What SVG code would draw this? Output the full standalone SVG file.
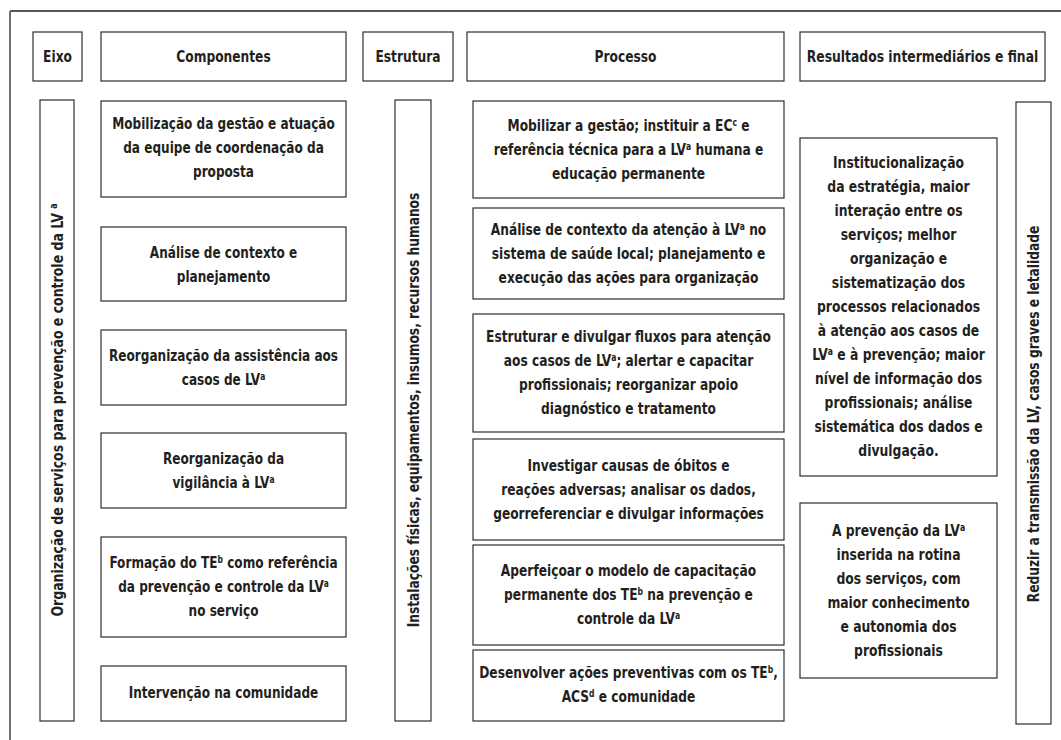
<svg xmlns="http://www.w3.org/2000/svg" width="1061" height="740" viewBox="0 0 1061 740">
<style>
  .box { fill: #ffffff; stroke: #2e2e2e; stroke-width: 1.2; }
  .t { font-family: "DejaVu Sans Condensed", "DejaVu Sans", "Liberation Sans", sans-serif; font-weight: bold; font-size: 16px; fill: #231f20; text-anchor: middle; }
  .sup { font-size: 10px; baseline-shift: super; }
</style>
<rect x="0" y="0" width="1061" height="740" fill="#ffffff"/>
<g id="frame">
  <line x1="10" y1="11" x2="1061" y2="11" stroke="#1e1e1e" stroke-width="1.3"/>
  <line x1="10" y1="11" x2="10" y2="740" stroke="#707070" stroke-width="2"/>
</g>
<g id="header-eixo"><rect class="box" x="33" y="32" width="49" height="49"/><text class="t" transform="translate(57.5 62) scale(0.85 1)">Eixo</text></g>
<g id="header-componentes"><rect class="box" x="101" y="32" width="245" height="49"/><text class="t" transform="translate(223.5 62) scale(0.85 1)">Componentes</text></g>
<g id="header-estrutura"><rect class="box" x="363" y="32" width="90" height="49"/><text class="t" transform="translate(408 62) scale(0.85 1)">Estrutura</text></g>
<g id="header-processo"><rect class="box" x="467" y="32" width="317" height="49"/><text class="t" transform="translate(625.5 62) scale(0.85 1)">Processo</text></g>
<g id="header-resultados"><rect class="box" x="800" y="32" width="245" height="49"/><text class="t" transform="translate(922.5 62) scale(0.86 1)">Resultados intermediários e final</text></g>

<g id="eixo"><rect class="box" x="40" y="100" width="34" height="621"/>
  <text class="t" transform="translate(57 410) rotate(-90) scale(0.87 1)" x="0" y="5.5">Organização de serviços para prevenção e controle da LV <tspan class="sup">a</tspan></text></g>
<g id="estrutura"><rect class="box" x="395" y="100" width="36" height="621"/>
  <text class="t" transform="translate(413 410) rotate(-90) scale(0.85 1)" x="0" y="5.5">Instalações físicas, equipamentos, insumos, recursos humanos</text></g>
<g id="resultado-final"><rect class="box" x="1016" y="102" width="35" height="622"/>
  <text class="t" transform="translate(1033.5 414) rotate(-90) scale(0.85 1)" x="0" y="5.5">Reduzir a transmissão da LV, casos graves e letalidade</text></g>

<g id="comp1"><rect class="box" x="101" y="101" width="245" height="96"/>
  <g transform="translate(223.5 0) scale(0.84 1)">
  <text class="t" x="0" y="129.5">Mobilização da gestão e atuação</text>
  <text class="t" x="0" y="153.5">da equipe de coordenação da</text>
  <text class="t" x="0" y="177.5">proposta</text></g></g>
<g id="comp2"><rect class="box" x="101" y="227" width="245" height="74"/>
  <g transform="translate(223.5 0) scale(0.84 1)">
  <text class="t" x="0" y="258.5">Análise de contexto e</text>
  <text class="t" x="0" y="282.5">planejamento</text></g></g>
<g id="comp3"><rect class="box" x="101" y="330" width="245" height="75"/>
  <g transform="translate(223.5 0) scale(0.84 1)">
  <text class="t" x="0" y="361.5">Reorganização da assistência aos</text>
  <text class="t" x="0" y="385.5">casos de LV<tspan class="sup">a</tspan></text></g></g>
<g id="comp4"><rect class="box" x="101" y="433" width="245" height="75"/>
  <g transform="translate(223.5 0) scale(0.84 1)">
  <text class="t" x="0" y="464.5">Reorganização da</text>
  <text class="t" x="0" y="488.5">vigilância à LV<tspan class="sup">a</tspan></text></g></g>
<g id="comp5"><rect class="box" x="101" y="537" width="245" height="100"/>
  <g transform="translate(223.5 0) scale(0.84 1)">
  <text class="t" x="0" y="568.5">Formação do TE<tspan class="sup">b</tspan> como referência</text>
  <text class="t" x="0" y="592.5">da prevenção e controle da LV<tspan class="sup">a</tspan></text>
  <text class="t" x="0" y="616.5">no serviço</text></g></g>
<g id="comp6"><rect class="box" x="101" y="666" width="245" height="55"/>
  <g transform="translate(223.5 0) scale(0.84 1)">
  <text class="t" x="0" y="698.5">Intervenção na comunidade</text></g></g>

<g id="proc1"><rect class="box" x="473" y="101" width="311" height="97"/>
  <g transform="translate(628.5 0) scale(0.85 1)">
  <text class="t" x="0" y="131.5">Mobilizar a gestão; instituir a EC<tspan class="sup">c</tspan> e</text>
  <text class="t" x="0" y="155.5">referência técnica para a LV<tspan class="sup">a</tspan> humana e</text>
  <text class="t" x="0" y="179.5">educação permanente</text></g></g>
<g id="proc2"><rect class="box" x="473" y="208" width="311" height="91"/>
  <g transform="translate(628.5 0) scale(0.85 1)">
  <text class="t" x="0" y="235.5">Análise de contexto da atenção à LV<tspan class="sup">a</tspan> no</text>
  <text class="t" x="0" y="259.5">sistema de saúde local; planejamento e</text>
  <text class="t" x="0" y="283.5">execução das ações para organização</text></g></g>
<g id="proc3"><rect class="box" x="473" y="314" width="311" height="118"/>
  <g transform="translate(628.5 0) scale(0.85 1)">
  <text class="t" x="0" y="342.5">Estruturar e divulgar fluxos para atenção</text>
  <text class="t" x="0" y="366.5">aos casos de LV<tspan class="sup">a</tspan>; alertar e capacitar</text>
  <text class="t" x="0" y="390.5">profissionais; reorganizar apoio</text>
  <text class="t" x="0" y="414.5">diagnóstico e tratamento</text></g></g>
<g id="proc4"><rect class="box" x="473" y="439" width="311" height="101"/>
  <g transform="translate(628.5 0) scale(0.85 1)">
  <text class="t" x="0" y="471.5">Investigar causas de óbitos e</text>
  <text class="t" x="0" y="495.5">reações adversas; analisar os dados,</text>
  <text class="t" x="0" y="519.5">georreferenciar e divulgar informações</text></g></g>
<g id="proc5"><rect class="box" x="473" y="545" width="311" height="100"/>
  <g transform="translate(628.5 0) scale(0.85 1)">
  <text class="t" x="0" y="576.5">Aperfeiçoar o modelo de capacitação</text>
  <text class="t" x="0" y="600.5">permanente dos TE<tspan class="sup">b</tspan> na prevenção e</text>
  <text class="t" x="0" y="624.5">controle da LV<tspan class="sup">a</tspan></text></g></g>
<g id="proc6"><rect class="box" x="473" y="650" width="311" height="71"/>
  <g transform="translate(628.5 0) scale(0.85 1)">
  <text class="t" x="0" y="678.5">Desenvolver ações preventivas com os TE<tspan class="sup">b</tspan>,</text>
  <text class="t" x="0" y="702.5">ACS<tspan class="sup">d</tspan> e comunidade</text></g></g>

<g id="res1"><rect class="box" x="800" y="138" width="197" height="338"/>
  <g transform="translate(898.5 0) scale(0.86 1)">
  <text class="t" x="0" y="168.5">Institucionalização</text>
  <text class="t" x="0" y="192.5">da estratégia, maior</text>
  <text class="t" x="0" y="216.5">interação entre os</text>
  <text class="t" x="0" y="240.5">serviços; melhor</text>
  <text class="t" x="0" y="264.5">organização e</text>
  <text class="t" x="0" y="288.5">sistematização dos</text>
  <text class="t" x="0" y="312.5">processos relacionados</text>
  <text class="t" x="0" y="336.5">à atenção aos casos de</text>
  <text class="t" x="0" y="360.5">LV<tspan class="sup">a</tspan> e à prevenção; maior</text>
  <text class="t" x="0" y="384.5">nível de informação dos</text>
  <text class="t" x="0" y="408.5">profissionais; análise</text>
  <text class="t" x="0" y="432.5">sistemática dos dados e</text>
  <text class="t" x="0" y="456.5">divulgação.</text></g></g>
<g id="res2"><rect class="box" x="800" y="503" width="197" height="175"/>
  <g transform="translate(898.5 0) scale(0.86 1)">
  <text class="t" x="0" y="536">A prevenção da LV<tspan class="sup">a</tspan></text>
  <text class="t" x="0" y="560">inserida na rotina</text>
  <text class="t" x="0" y="584">dos serviços, com</text>
  <text class="t" x="0" y="608">maior conhecimento</text>
  <text class="t" x="0" y="632">e autonomia dos</text>
  <text class="t" x="0" y="656">profissionais</text></g></g>
</svg>
